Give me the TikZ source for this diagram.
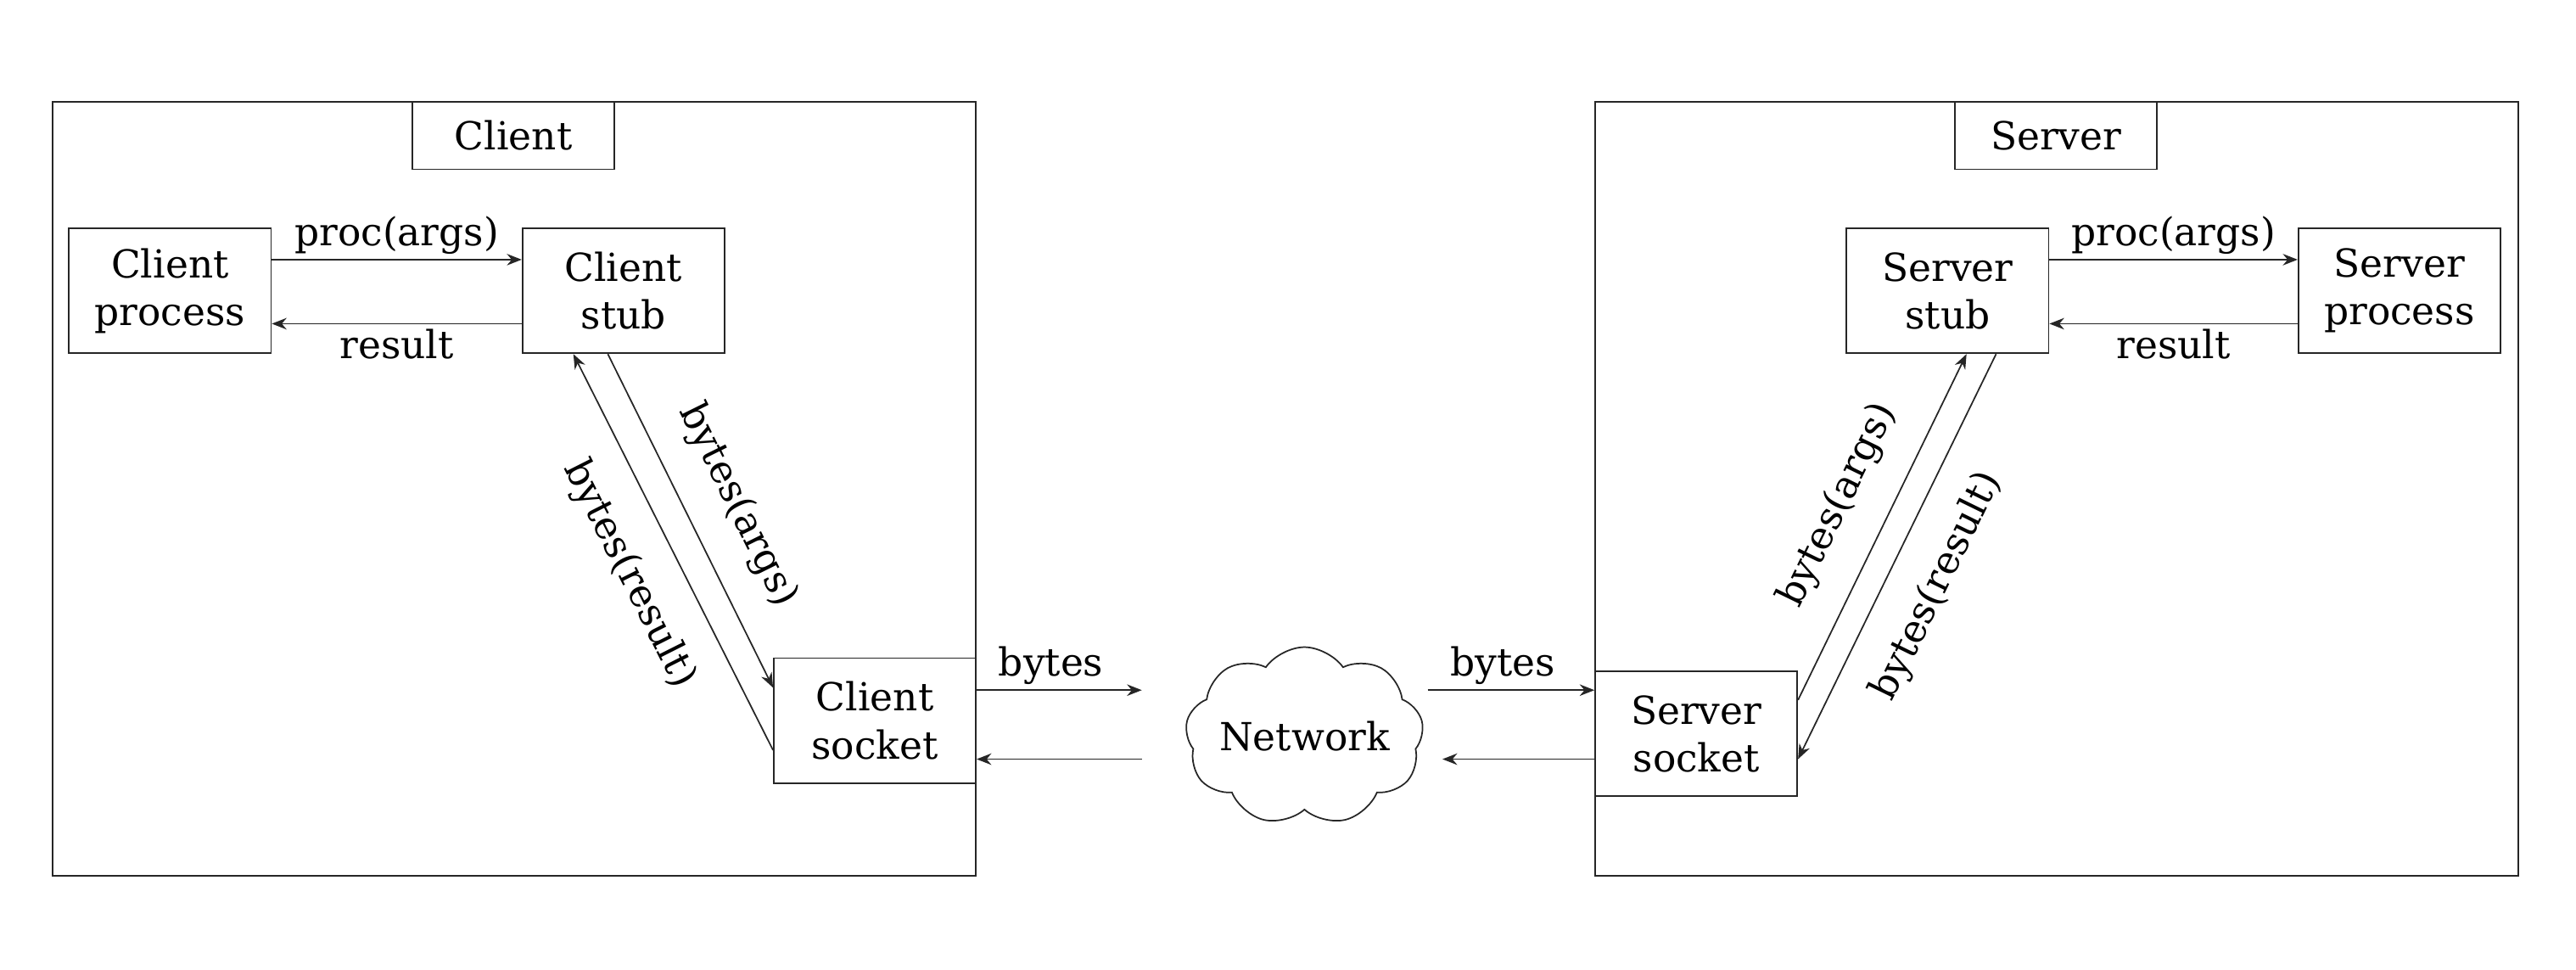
\documentclass[tikz,border=0pt]{standalone}
\usepackage{fontspec}
\setmainfont{DejaVu Serif}
\usetikzlibrary{shapes.symbols,arrows.meta}
\begin{document}
\begin{tikzpicture}[x=1pt,y=-1pt,
  font=\fontsize{23.5}{29}\selectfont,
  line width=0.9pt, draw=black!85,
  box/.style={draw, minimum width=123pt, minimum height=76pt, align=center, inner sep=0pt},
  titlebox/.style={draw, minimum width=123pt, minimum height=41pt, inner sep=0pt},
  frame/.style={draw, minimum width=562pt, minimum height=471pt, inner sep=0pt},
  arr/.style={-{Stealth[length=9pt,width=7pt]}},
  lbl/.style={inner sep=3pt},
  slbl/.style={sloped, inner sep=18pt}]
\useasboundingbox (0,0) rectangle (1568,590);

% frames
\node[frame] (cframe) at (313,297.5) {};
\node[frame] (sframe) at (1252,297.5) {};
\node[titlebox] (ctitle) at (312.5,82.5) {Client};
\node[titlebox] (stitle) at (1251.5,82.5) {Server};

% client side
\node[box] (cp) at (103.5,177) {Client\\process};
\node[box] (cs) at (379.5,177) {Client\\stub};
\node[box] (csock) at (532.5,438.5) {Client\\socket};

% server side
\node[box] (ss) at (1185.5,177) {Server\\stub};
\node[box] (sp) at (1460.5,177) {Server\\process};
\node[box] (ssock) at (1032.5,446.5) {Server\\socket};

% network
\node[cloud, draw, cloud puffs=9, cloud puff arc=110, aspect=1.35,
      minimum width=145pt, minimum height=108pt, inner xsep=-8pt, inner ysep=-6pt] (net) at (794,448) {Network};
\coordinate (nl1) at (695,420);
\coordinate (nl2) at (695,462);
\coordinate (nr1) at (869,420);
\coordinate (nr2) at (878,462);

% client arrows
\draw[arr] ([yshift=19pt]cp.east) -- node[above,lbl]{proc(args)} ([yshift=19pt]cs.west);
\draw[arr] ([yshift=-20pt]cs.west) -- node[below,lbl]{result} ([yshift=-20pt]cp.east);
\draw[arr] ([xshift=-9.5pt]cs.south) -- node[slbl,above,pos=0.52]{bytes(args)} ([yshift=20pt]csock.west);
\draw[arr] ([yshift=-18pt]csock.west) -- node[slbl,below,pos=0.5]{bytes(result)} ([xshift=-30.5pt]cs.south);

% network arrows
\draw[arr] ([yshift=18.5pt]csock.east) -- node[above,lbl,pos=0.45]{bytes} (nl1);
\draw[arr] (nl2) -- ([yshift=-23.5pt]csock.east);
\draw[arr] (nr1) -- node[above,lbl,pos=0.45]{bytes} ([yshift=26.5pt]ssock.west);
\draw[arr] ([yshift=-15.5pt]ssock.west) -- (nr2);

% server arrows
\draw[arr] ([yshift=19pt]ss.east) -- node[above,lbl]{proc(args)} ([yshift=19pt]sp.west);
\draw[arr] ([yshift=-20pt]sp.west) -- node[below,lbl]{result} ([yshift=-20pt]ss.east);
\draw[arr] ([yshift=20.5pt]ssock.east) -- node[slbl,above,pos=0.5]{bytes(args)} ([xshift=11.5pt]ss.south);
\draw[arr] ([xshift=29.5pt]ss.south) -- node[slbl,below,pos=0.52]{bytes(result)} ([yshift=-15.5pt]ssock.east);
\end{tikzpicture}
\end{document}
